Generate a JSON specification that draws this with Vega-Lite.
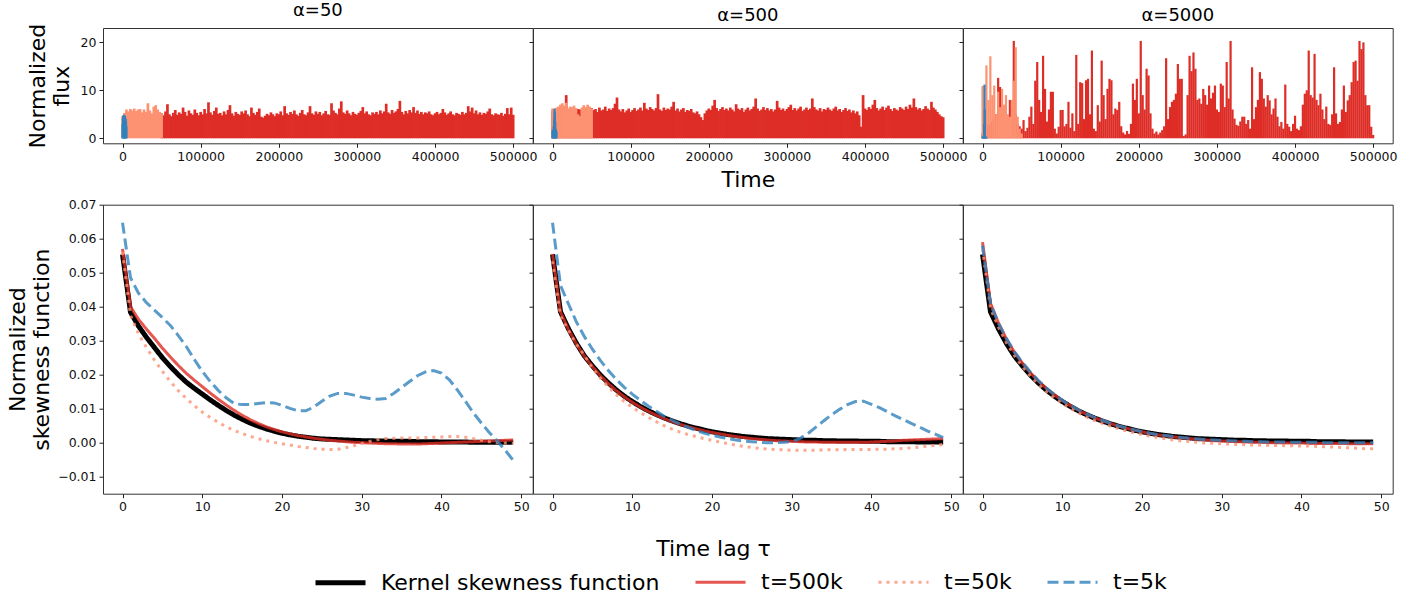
{
"$schema":"https://vega.github.io/schema/vega-lite/v6.json",
"padding":{"left":5,"top":1,"right":5,"bottom":0},
"config":{"font":"DejaVu Sans","view":{"stroke":"#333","strokeWidth":1},
"axis":{"grid":false,"domain":false,"tickSize":4,"tickColor":"#222","labelFontSize":12.5,"labelColor":"#111","labelPadding":3,"labelFlush":false,"labelOverlap":false,"titleFontSize":22,"titleFontWeight":"normal","titleColor":"#000","titleLineHeight":24},
"title":{"fontSize":18,"fontWeight":"normal","color":"#000","baseline":"alphabetic","offset":3,"frame":"group"}},
"datasets":{
"f50r":[{"t":50000,"v":5.2},{"t":52500,"v":4.8},{"t":55000,"v":5.6},{"t":57500,"v":7.1},{"t":60000,"v":5.0},{"t":62500,"v":4.6},{"t":65000,"v":5.3},{"t":67500,"v":5.9},{"t":70000,"v":4.9},{"t":72500,"v":5.4},
{"t":75000,"v":5.1},{"t":77500,"v":6.4},{"t":80000,"v":5.5},{"t":82500,"v":4.7},{"t":85000,"v":5.8},{"t":87500,"v":5.2},{"t":90000,"v":4.9},{"t":92500,"v":6.0},{"t":95000,"v":5.3},{"t":97500,"v":4.8},
{"t":100000,"v":5.5},{"t":102500,"v":5.0},{"t":105000,"v":6.1},{"t":107500,"v":5.2},{"t":110000,"v":7.5},{"t":112500,"v":5.4},{"t":115000,"v":4.9},{"t":117500,"v":5.7},{"t":120000,"v":6.4},{"t":122500,"v":5.1},
{"t":125000,"v":5.3},{"t":127500,"v":4.8},{"t":130000,"v":5.6},{"t":132500,"v":5.0},{"t":135000,"v":5.9},{"t":137500,"v":6.9},{"t":140000,"v":5.2},{"t":142500,"v":4.7},{"t":145000,"v":5.5},{"t":147500,"v":5.1},
{"t":150000,"v":4.9},{"t":152500,"v":5.6},{"t":155000,"v":5.2},{"t":157500,"v":5.8},{"t":160000,"v":5.0},{"t":162500,"v":4.6},{"t":165000,"v":6.4},{"t":167500,"v":5.3},{"t":170000,"v":4.9},{"t":172500,"v":5.5},
{"t":175000,"v":6.2},{"t":177500,"v":4.5},{"t":180000,"v":4.3},{"t":182500,"v":4.7},{"t":185000,"v":5.1},{"t":187500,"v":4.8},{"t":190000,"v":5.4},{"t":192500,"v":5.0},{"t":195000,"v":4.6},{"t":197500,"v":5.2},
{"t":200000,"v":5.0},{"t":202500,"v":5.6},{"t":205000,"v":4.8},{"t":207500,"v":6.7},{"t":210000,"v":5.2},{"t":212500,"v":4.9},{"t":215000,"v":5.5},{"t":217500,"v":5.1},{"t":220000,"v":5.8},{"t":222500,"v":5.0},
{"t":225000,"v":4.7},{"t":227500,"v":5.3},{"t":230000,"v":5.9},{"t":232500,"v":5.0},{"t":235000,"v":4.8},{"t":237500,"v":5.4},{"t":240000,"v":6.7},{"t":242500,"v":5.2},{"t":245000,"v":4.9},{"t":247500,"v":5.6},
{"t":250000,"v":5.1},{"t":252500,"v":5.5},{"t":255000,"v":4.8},{"t":257500,"v":5.2},{"t":260000,"v":5.7},{"t":262500,"v":5.0},{"t":265000,"v":4.9},{"t":267500,"v":7.3},{"t":270000,"v":5.8},{"t":272500,"v":5.3},
{"t":275000,"v":5.0},{"t":277500,"v":6.2},{"t":280000,"v":7.7},{"t":282500,"v":5.4},{"t":285000,"v":5.1},{"t":287500,"v":5.8},{"t":290000,"v":5.2},{"t":292500,"v":4.8},{"t":295000,"v":5.5},{"t":297500,"v":5.1},
{"t":300000,"v":4.9},{"t":302500,"v":5.3},{"t":305000,"v":5.7},{"t":307500,"v":6.5},{"t":310000,"v":5.2},{"t":312500,"v":5.6},{"t":315000,"v":5.0},{"t":317500,"v":4.8},{"t":320000,"v":5.4},{"t":322500,"v":5.1},
{"t":325000,"v":5.5},{"t":327500,"v":5.0},{"t":330000,"v":5.8},{"t":332500,"v":5.2},{"t":335000,"v":5.6},{"t":337500,"v":7.2},{"t":340000,"v":5.4},{"t":342500,"v":5.1},{"t":345000,"v":5.9},{"t":347500,"v":5.3},
{"t":350000,"v":5.6},{"t":352500,"v":6.1},{"t":355000,"v":7.8},{"t":357500,"v":5.5},{"t":360000,"v":5.0},{"t":362500,"v":5.7},{"t":365000,"v":5.2},{"t":367500,"v":5.9},{"t":370000,"v":5.4},{"t":372500,"v":6.5},
{"t":375000,"v":5.3},{"t":377500,"v":5.8},{"t":380000,"v":5.1},{"t":382500,"v":5.5},{"t":385000,"v":5.0},{"t":387500,"v":5.4},{"t":390000,"v":5.2},{"t":392500,"v":5.6},{"t":395000,"v":5.0},{"t":397500,"v":4.8},
{"t":400000,"v":5.2},{"t":402500,"v":5.5},{"t":405000,"v":5.0},{"t":407500,"v":5.3},{"t":410000,"v":6.1},{"t":412500,"v":5.4},{"t":415000,"v":4.9},{"t":417500,"v":5.2},{"t":420000,"v":5.6},{"t":422500,"v":5.0},
{"t":425000,"v":4.8},{"t":427500,"v":5.3},{"t":430000,"v":5.1},{"t":432500,"v":4.9},{"t":435000,"v":5.5},{"t":437500,"v":5.0},{"t":440000,"v":5.3},{"t":442500,"v":6.7},{"t":445000,"v":5.6},{"t":447500,"v":6.4},
{"t":450000,"v":5.2},{"t":452500,"v":5.8},{"t":455000,"v":5.0},{"t":457500,"v":5.4},{"t":460000,"v":4.9},{"t":462500,"v":5.3},{"t":465000,"v":5.1},{"t":467500,"v":5.6},{"t":470000,"v":6.2},{"t":472500,"v":5.0},
{"t":475000,"v":4.8},{"t":477500,"v":5.2},{"t":480000,"v":5.0},{"t":482500,"v":4.9},{"t":485000,"v":5.3},{"t":487500,"v":4.7},{"t":490000,"v":5.1},{"t":492500,"v":6.3},{"t":495000,"v":5.0},{"t":497500,"v":6.4},{"t":500000,"v":4.9}],
"f50s":[{"t":0,"v":4.6},{"t":2500,"v":5.3},{"t":5000,"v":6.0},{"t":7500,"v":5.6},{"t":10000,"v":6.1},{"t":12500,"v":5.8},{"t":15000,"v":6.2},{"t":17500,"v":5.7},{"t":20000,"v":6.0},{"t":22500,"v":6.1},{"t":25000,"v":5.4},{"t":27500,"v":6.0},{"t":30000,"v":5.5},{"t":32500,"v":7.3},{"t":35000,"v":5.8},{"t":37500,"v":5.2},{"t":40000,"v":6.6},{"t":42500,"v":6.9},{"t":45000,"v":6.0},{"t":47500,"v":5.5},{"t":50000,"v":5.2}],
"f50b":[{"t":0,"v":3.0},{"t":500,"v":4.2},{"t":1000,"v":4.8},{"t":1500,"v":4.6},{"t":2000,"v":4.9},{"t":2500,"v":4.5},{"t":3000,"v":4.7},{"t":3500,"v":4.3},{"t":4000,"v":4.0},{"t":4500,"v":3.6},{"t":5000,"v":2.5}],
"f500r":[{"t":0,"v":5.6},{"t":2500,"v":5.8},{"t":5000,"v":6.0},{"t":7500,"v":5.9},{"t":10000,"v":6.1},{"t":12500,"v":6.0},{"t":15000,"v":6.2},{"t":17500,"v":9.0},{"t":20000,"v":6.0},{"t":22500,"v":5.9},{"t":25000,"v":6.1},{"t":27500,"v":6.0},{"t":30000,"v":5.8},{"t":32500,"v":6.1},{"t":35000,"v":6.0},{"t":37500,"v":5.9},{"t":40000,"v":6.2},{"t":42500,"v":6.0},{"t":45000,"v":5.8},{"t":47500,"v":6.1},
{"t":50000,"v":6.3},{"t":52500,"v":5.9},{"t":55000,"v":6.1},{"t":57500,"v":5.5},{"t":60000,"v":6.4},{"t":62500,"v":5.8},{"t":65000,"v":6.0},{"t":67500,"v":6.6},{"t":70000,"v":5.7},{"t":72500,"v":6.2},
{"t":75000,"v":5.9},{"t":77500,"v":6.3},{"t":80000,"v":7.2},{"t":82500,"v":8.5},{"t":85000,"v":6.0},{"t":87500,"v":5.6},{"t":90000,"v":6.1},{"t":92500,"v":5.4},{"t":95000,"v":5.8},{"t":97500,"v":6.2},
{"t":100000,"v":5.5},{"t":102500,"v":5.9},{"t":105000,"v":6.3},{"t":107500,"v":5.7},{"t":110000,"v":6.0},{"t":112500,"v":6.4},{"t":115000,"v":5.8},{"t":117500,"v":7.4},{"t":120000,"v":6.2},{"t":122500,"v":5.9},
{"t":125000,"v":6.5},{"t":127500,"v":6.1},{"t":130000,"v":5.8},{"t":132500,"v":6.3},{"t":135000,"v":9.2},{"t":137500,"v":6.0},{"t":140000,"v":5.7},{"t":142500,"v":6.4},{"t":145000,"v":5.9},{"t":147500,"v":6.2},
{"t":150000,"v":6.0},{"t":152500,"v":6.6},{"t":155000,"v":7.6},{"t":157500,"v":5.8},{"t":160000,"v":6.2},{"t":162500,"v":5.6},{"t":165000,"v":6.0},{"t":167500,"v":6.3},{"t":170000,"v":5.5},{"t":172500,"v":5.9},
{"t":175000,"v":5.7},{"t":177500,"v":6.1},{"t":180000,"v":5.4},{"t":182500,"v":5.2},{"t":185000,"v":5.6},{"t":187500,"v":5.0},{"t":190000,"v":4.4},{"t":192500,"v":3.8},{"t":195000,"v":5.2},{"t":197500,"v":5.8},
{"t":200000,"v":6.2},{"t":202500,"v":5.9},{"t":205000,"v":6.8},{"t":207500,"v":8.0},{"t":210000,"v":6.3},{"t":212500,"v":5.7},{"t":215000,"v":6.1},{"t":217500,"v":6.5},{"t":220000,"v":5.9},{"t":222500,"v":6.2},
{"t":225000,"v":5.8},{"t":227500,"v":6.4},{"t":230000,"v":6.0},{"t":232500,"v":5.6},{"t":235000,"v":7.1},{"t":237500,"v":6.2},{"t":240000,"v":5.9},{"t":242500,"v":6.3},{"t":245000,"v":5.5},{"t":247500,"v":6.0},
{"t":250000,"v":6.4},{"t":252500,"v":5.8},{"t":255000,"v":6.1},{"t":257500,"v":6.6},{"t":260000,"v":8.3},{"t":262500,"v":6.2},{"t":265000,"v":5.7},{"t":267500,"v":6.0},{"t":270000,"v":6.5},{"t":272500,"v":5.9},
{"t":275000,"v":6.3},{"t":277500,"v":5.8},{"t":280000,"v":6.1},{"t":282500,"v":5.6},{"t":285000,"v":6.0},{"t":287500,"v":7.8},{"t":290000,"v":6.4},{"t":292500,"v":5.9},{"t":295000,"v":6.2},{"t":297500,"v":5.7},
{"t":300000,"v":6.1},{"t":302500,"v":6.5},{"t":305000,"v":7.0},{"t":307500,"v":5.9},{"t":310000,"v":6.3},{"t":312500,"v":5.8},{"t":315000,"v":6.2},{"t":317500,"v":6.6},{"t":320000,"v":5.7},{"t":322500,"v":6.0},
{"t":325000,"v":6.4},{"t":327500,"v":5.9},{"t":330000,"v":6.2},{"t":332500,"v":8.3},{"t":335000,"v":6.5},{"t":337500,"v":6.0},{"t":340000,"v":5.8},{"t":342500,"v":6.3},{"t":345000,"v":5.6},{"t":347500,"v":6.1},
{"t":350000,"v":5.9},{"t":352500,"v":6.4},{"t":355000,"v":6.0},{"t":357500,"v":5.7},{"t":360000,"v":6.2},{"t":362500,"v":6.6},{"t":365000,"v":5.8},{"t":367500,"v":6.1},{"t":370000,"v":5.5},{"t":372500,"v":5.9},
{"t":375000,"v":6.3},{"t":377500,"v":5.7},{"t":380000,"v":6.0},{"t":382500,"v":5.4},{"t":385000,"v":5.8},{"t":387500,"v":5.2},{"t":390000,"v":5.6},{"t":392500,"v":4.8},{"t":395000,"v":2.4},{"t":397500,"v":9.0},
{"t":400000,"v":6.2},{"t":402500,"v":5.9},{"t":405000,"v":6.5},{"t":407500,"v":6.1},{"t":410000,"v":7.0},{"t":412500,"v":8.0},{"t":415000,"v":6.3},{"t":417500,"v":5.8},{"t":420000,"v":6.2},{"t":422500,"v":6.6},
{"t":425000,"v":5.9},{"t":427500,"v":6.4},{"t":430000,"v":6.8},{"t":432500,"v":6.1},{"t":435000,"v":5.7},{"t":437500,"v":6.3},{"t":440000,"v":6.0},{"t":442500,"v":5.8},{"t":445000,"v":6.5},{"t":447500,"v":6.2},
{"t":450000,"v":5.9},{"t":452500,"v":6.6},{"t":455000,"v":6.1},{"t":457500,"v":7.0},{"t":460000,"v":6.4},{"t":462500,"v":8.3},{"t":465000,"v":6.5},{"t":467500,"v":6.0},{"t":470000,"v":6.3},{"t":472500,"v":5.8},
{"t":475000,"v":6.1},{"t":477500,"v":6.7},{"t":480000,"v":6.2},{"t":482500,"v":5.9},{"t":485000,"v":7.6},{"t":487500,"v":6.4},{"t":490000,"v":6.0},{"t":492500,"v":5.5},{"t":495000,"v":5.0},{"t":497500,"v":4.6},{"t":500000,"v":4.4}],
"f500s":[{"t":0,"v":6.2},{"t":2500,"v":6.0},{"t":5000,"v":6.4},{"t":7500,"v":6.6},{"t":10000,"v":7.0},{"t":12500,"v":7.3},{"t":15000,"v":6.8},{"t":17500,"v":7.4},{"t":20000,"v":6.2},{"t":22500,"v":6.6},{"t":25000,"v":6.5},{"t":27500,"v":6.8},{"t":30000,"v":6.3},{"t":32500,"v":5.0},{"t":35000,"v":4.6},{"t":37500,"v":6.4},{"t":40000,"v":6.9},{"t":42500,"v":6.5},{"t":45000,"v":7.0},{"t":47500,"v":6.6},{"t":50000,"v":6.2}],
"f500b":[{"t":0,"v":1.6},{"t":500,"v":1.8},{"t":1000,"v":1.7},{"t":1500,"v":2.5},{"t":2000,"v":4.0},{"t":2500,"v":6.2},{"t":3000,"v":5.5},{"t":3500,"v":3.5},{"t":4000,"v":2.0},{"t":4500,"v":1.6},{"t":5000,"v":1.4}],
"f5000r":[{"t":0,"v":1.0},{"t":2500,"v":2.0},{"t":5000,"v":1.5},{"t":7500,"v":3.0},{"t":10000,"v":2.5},{"t":12500,"v":3.5},{"t":15000,"v":4.0},{"t":17500,"v":5.0},{"t":20000,"v":12.6},{"t":22500,"v":10.7},{"t":25000,"v":4.0},{"t":27500,"v":6.0},{"t":30000,"v":5.0},{"t":32500,"v":3.0},{"t":35000,"v":8.0},{"t":37500,"v":6.5},{"t":40000,"v":20.3},{"t":42500,"v":5.0},{"t":45000,"v":3.0},{"t":47500,"v":2.5},
{"t":50000,"v":2.0},{"t":52500,"v":3.8},{"t":55000,"v":1.5},{"t":57500,"v":2.2},{"t":60000,"v":4.5},{"t":62500,"v":6.6},{"t":65000,"v":3.0},{"t":67500,"v":12.0},{"t":70000,"v":15.9},{"t":72500,"v":8.0},
{"t":75000,"v":5.5},{"t":77500,"v":17.2},{"t":80000,"v":10.3},{"t":82500,"v":3.5},{"t":85000,"v":6.0},{"t":87500,"v":9.7},{"t":90000,"v":9.7},{"t":92500,"v":2.0},{"t":95000,"v":1.0},{"t":97500,"v":2.4},
{"t":100000,"v":5.9},{"t":102500,"v":5.9},{"t":105000,"v":2.5},{"t":107500,"v":3.0},{"t":110000,"v":7.6},{"t":112500,"v":2.2},{"t":115000,"v":5.2},{"t":117500,"v":1.5},{"t":120000,"v":17.4},{"t":122500,"v":3.0},
{"t":125000,"v":11.7},{"t":127500,"v":11.5},{"t":130000,"v":4.0},{"t":132500,"v":12.1},{"t":135000,"v":12.4},{"t":137500,"v":5.0},{"t":140000,"v":18.3},{"t":142500,"v":2.0},{"t":145000,"v":1.5},{"t":147500,"v":6.9},
{"t":150000,"v":3.5},{"t":152500,"v":16.2},{"t":155000,"v":9.0},{"t":157500,"v":4.0},{"t":160000,"v":10.3},{"t":162500,"v":12.4},{"t":165000,"v":12.1},{"t":167500,"v":5.0},{"t":170000,"v":6.2},{"t":172500,"v":5.9},
{"t":175000,"v":7.6},{"t":177500,"v":2.5},{"t":180000,"v":1.2},{"t":182500,"v":0.8},{"t":185000,"v":1.5},{"t":187500,"v":0.9},{"t":190000,"v":3.0},{"t":192500,"v":11.4},{"t":195000,"v":8.0},{"t":197500,"v":12.4},
{"t":200000,"v":5.2},{"t":202500,"v":20.3},{"t":205000,"v":9.0},{"t":207500,"v":6.0},{"t":210000,"v":14.5},{"t":212500,"v":13.1},{"t":215000,"v":5.2},{"t":217500,"v":2.0},{"t":220000,"v":1.0},{"t":222500,"v":1.4},
{"t":225000,"v":0.8},{"t":227500,"v":1.2},{"t":230000,"v":1.7},{"t":232500,"v":2.5},{"t":235000,"v":16.7},{"t":237500,"v":4.0},{"t":240000,"v":6.5},{"t":242500,"v":7.6},{"t":245000,"v":8.0},{"t":247500,"v":9.3},
{"t":250000,"v":15.5},{"t":252500,"v":12.4},{"t":255000,"v":12.4},{"t":257500,"v":0.5},{"t":260000,"v":0.8},{"t":262500,"v":9.0},{"t":265000,"v":17.2},{"t":267500,"v":14.0},{"t":270000,"v":17.9},{"t":272500,"v":14.5},
{"t":275000,"v":8.0},{"t":277500,"v":8.3},{"t":280000,"v":7.2},{"t":282500,"v":10.3},{"t":285000,"v":9.0},{"t":287500,"v":7.0},{"t":290000,"v":11.0},{"t":292500,"v":8.3},{"t":295000,"v":9.5},{"t":297500,"v":11.0},
{"t":300000,"v":6.0},{"t":302500,"v":5.5},{"t":305000,"v":11.4},{"t":307500,"v":11.0},{"t":310000,"v":6.5},{"t":312500,"v":15.9},{"t":315000,"v":8.3},{"t":317500,"v":20.3},{"t":320000,"v":6.0},{"t":322500,"v":4.1},
{"t":325000,"v":2.8},{"t":327500,"v":2.6},{"t":330000,"v":3.5},{"t":332500,"v":4.5},{"t":335000,"v":4.5},{"t":337500,"v":3.0},{"t":340000,"v":3.8},{"t":342500,"v":2.0},{"t":345000,"v":14.8},{"t":347500,"v":4.0},
{"t":350000,"v":6.5},{"t":352500,"v":8.0},{"t":355000,"v":13.8},{"t":357500,"v":12.4},{"t":360000,"v":8.3},{"t":362500,"v":6.6},{"t":365000,"v":9.0},{"t":367500,"v":7.9},{"t":370000,"v":5.0},{"t":372500,"v":6.2},
{"t":375000,"v":8.3},{"t":377500,"v":4.5},{"t":380000,"v":2.5},{"t":382500,"v":3.4},{"t":385000,"v":2.0},{"t":387500,"v":11.2},{"t":390000,"v":3.0},{"t":392500,"v":2.4},{"t":395000,"v":1.5},{"t":397500,"v":3.0},
{"t":400000,"v":4.7},{"t":402500,"v":2.0},{"t":405000,"v":1.7},{"t":407500,"v":2.5},{"t":410000,"v":7.0},{"t":412500,"v":9.3},{"t":415000,"v":10.0},{"t":417500,"v":18.3},{"t":420000,"v":9.0},{"t":422500,"v":8.5},
{"t":425000,"v":17.6},{"t":427500,"v":8.0},{"t":430000,"v":6.9},{"t":432500,"v":9.3},{"t":435000,"v":6.0},{"t":437500,"v":4.0},{"t":440000,"v":6.6},{"t":442500,"v":3.0},{"t":445000,"v":2.8},{"t":447500,"v":5.0},
{"t":450000,"v":14.8},{"t":452500,"v":5.2},{"t":455000,"v":3.0},{"t":457500,"v":3.4},{"t":460000,"v":6.0},{"t":462500,"v":11.0},{"t":465000,"v":5.5},{"t":467500,"v":7.9},{"t":470000,"v":9.0},{"t":472500,"v":11.7},
{"t":475000,"v":15.9},{"t":477500,"v":16.2},{"t":480000,"v":12.0},{"t":482500,"v":20.3},{"t":485000,"v":18.6},{"t":487500,"v":20.0},{"t":490000,"v":9.0},{"t":492500,"v":6.9},{"t":495000,"v":6.9},{"t":497500,"v":2.4},{"t":500000,"v":0.7}],
"f5000s":[{"t":0,"v":10.9},{"t":2500,"v":6.0},{"t":5000,"v":15.2},{"t":7500,"v":8.0},{"t":10000,"v":17.1},{"t":12500,"v":9.0},{"t":15000,"v":11.0},{"t":17500,"v":5.0},{"t":20000,"v":9.7},{"t":22500,"v":6.5},{"t":25000,"v":10.3},{"t":27500,"v":7.0},{"t":30000,"v":9.0},{"t":32500,"v":5.0},{"t":35000,"v":4.5},{"t":37500,"v":8.0},{"t":40000,"v":12.0},{"t":42500,"v":19.0},{"t":45000,"v":4.5},{"t":47500,"v":2.0},{"t":50000,"v":1.0}],
"f5000b":[{"t":0,"v":0.3},{"t":500,"v":0.3},{"t":1000,"v":0.4},{"t":1500,"v":0.5},{"t":2000,"v":3.0},{"t":2500,"v":11.2},{"t":3000,"v":6.0},{"t":3500,"v":0.5},{"t":4000,"v":0.3},{"t":4500,"v":0.3},{"t":5000,"v":0.2}],
"k50":[{"x":0,"y":0.0554},{"x":1,"y":0.0384},{"x":2,"y":0.0343},{"x":3,"y":0.031},{"x":4,"y":0.028},{"x":5,"y":0.025},{"x":6,"y":0.0224},{"x":7,"y":0.02},{"x":8,"y":0.0178},{"x":9,"y":0.016},{"x":10,"y":0.0143},{"x":11,"y":0.0126},{"x":12,"y":0.011},{"x":13,"y":0.0095},{"x":14,"y":0.0081},{"x":15,"y":0.0069},{"x":16,"y":0.0058},{"x":17,"y":0.0049},{"x":18,"y":0.0041},{"x":19,"y":0.0034},{"x":20,"y":0.0028},{"x":21,"y":0.0023},{"x":22,"y":0.0019},{"x":23,"y":0.0016},{"x":24,"y":0.0013},{"x":25,"y":0.0011},{"x":26,"y":0.001},{"x":27,"y":0.0009},{"x":28,"y":0.0008},{"x":29,"y":0.0007},{"x":30,"y":0.0006},{"x":31,"y":0.0006},{"x":32,"y":0.0005},{"x":33,"y":0.0005},{"x":34,"y":0.0004},{"x":35,"y":0.0004},{"x":36,"y":0.0004},{"x":37,"y":0.0003},{"x":38,"y":0.0003},{"x":39,"y":0.0003},{"x":40,"y":0.0002},{"x":41,"y":0.0002},{"x":42,"y":0.0002},{"x":43,"y":0.0002},{"x":44,"y":0.0001},{"x":45,"y":0.0001},{"x":46,"y":0.0001},{"x":47,"y":0.0001},{"x":48,"y":0.0001},{"x":49,"y":0.0001}],
"r50":[{"x":0,"y":0.057},{"x":1,"y":0.04},{"x":2,"y":0.0363},{"x":3,"y":0.0334},{"x":4,"y":0.0307},{"x":5,"y":0.0278},{"x":6,"y":0.0252},{"x":7,"y":0.0227},{"x":8,"y":0.0204},{"x":9,"y":0.0184},{"x":10,"y":0.0165},{"x":11,"y":0.0146},{"x":12,"y":0.0128},{"x":13,"y":0.0111},{"x":14,"y":0.0095},{"x":15,"y":0.0081},{"x":16,"y":0.0068},{"x":17,"y":0.0057},{"x":18,"y":0.0047},{"x":19,"y":0.0039},{"x":20,"y":0.0032},{"x":21,"y":0.0026},{"x":22,"y":0.0021},{"x":23,"y":0.0017},{"x":24,"y":0.0013},{"x":25,"y":0.001},{"x":26,"y":0.0007},{"x":27,"y":0.0005},{"x":28,"y":0.0003},{"x":29,"y":0.0001},{"x":30,"y":0},{"x":31,"y":-0.0001},{"x":32,"y":-0.0002},{"x":33,"y":-0.0003},{"x":34,"y":-0.0003},{"x":35,"y":-0.0004},{"x":36,"y":-0.0004},{"x":37,"y":-0.0004},{"x":38,"y":-0.0003},{"x":39,"y":-0.0002},{"x":40,"y":-0.0001},{"x":41,"y":0},{"x":42,"y":0.0001},{"x":43,"y":0.0002},{"x":44,"y":0.0003},{"x":45,"y":0.0004},{"x":46,"y":0.0005},{"x":47,"y":0.0006},{"x":48,"y":0.0007},{"x":49,"y":0.0008}],
"s50":[{"x":0,"y":0.056},{"x":1,"y":0.0375},{"x":2,"y":0.032},{"x":3,"y":0.028},{"x":4,"y":0.0243},{"x":5,"y":0.021},{"x":6,"y":0.018},{"x":7,"y":0.0153},{"x":8,"y":0.013},{"x":9,"y":0.0109},{"x":10,"y":0.009},{"x":11,"y":0.0074},{"x":12,"y":0.006},{"x":13,"y":0.0047},{"x":14,"y":0.0036},{"x":15,"y":0.0027},{"x":16,"y":0.0019},{"x":17,"y":0.0012},{"x":18,"y":0.0006},{"x":19,"y":0.0001},{"x":20,"y":-0.0003},{"x":21,"y":-0.0007},{"x":22,"y":-0.0011},{"x":23,"y":-0.0014},{"x":24,"y":-0.0017},{"x":25,"y":-0.0019},{"x":26,"y":-0.002},{"x":27,"y":-0.0019},{"x":28,"y":-0.0015},{"x":29,"y":-0.0009},{"x":30,"y":-0.0002},{"x":31,"y":0.0004},{"x":32,"y":0.0009},{"x":33,"y":0.0012},{"x":34,"y":0.0013},{"x":35,"y":0.0014},{"x":36,"y":0.0014},{"x":37,"y":0.0014},{"x":38,"y":0.0015},{"x":39,"y":0.0016},{"x":40,"y":0.0017},{"x":41,"y":0.0018},{"x":42,"y":0.0018},{"x":43,"y":0.0016},{"x":44,"y":0.0012},{"x":45,"y":0.0007},{"x":46,"y":0.0003},{"x":47,"y":0},{"x":48,"y":-0.0001},{"x":49,"y":-0.0002}],
"b50":[{"x":0,"y":0.0647},{"x":1,"y":0.0485},{"x":2,"y":0.044},{"x":3,"y":0.0412},{"x":4,"y":0.039},{"x":5,"y":0.0368},{"x":6,"y":0.0345},{"x":7,"y":0.0315},{"x":8,"y":0.0283},{"x":9,"y":0.0245},{"x":10,"y":0.021},{"x":11,"y":0.018},{"x":12,"y":0.0154},{"x":13,"y":0.0132},{"x":14,"y":0.0115},{"x":15,"y":0.0112},{"x":16,"y":0.0112},{"x":17,"y":0.0115},{"x":18,"y":0.0118},{"x":19,"y":0.0117},{"x":20,"y":0.011},{"x":21,"y":0.0101},{"x":22,"y":0.0094},{"x":23,"y":0.0094},{"x":24,"y":0.0105},{"x":25,"y":0.0122},{"x":26,"y":0.0137},{"x":27,"y":0.0145},{"x":28,"y":0.0145},{"x":29,"y":0.014},{"x":30,"y":0.0134},{"x":31,"y":0.013},{"x":32,"y":0.0128},{"x":33,"y":0.013},{"x":34,"y":0.0145},{"x":35,"y":0.0162},{"x":36,"y":0.018},{"x":37,"y":0.0197},{"x":38,"y":0.0208},{"x":39,"y":0.0212},{"x":40,"y":0.0205},{"x":41,"y":0.0185},{"x":42,"y":0.0155},{"x":43,"y":0.0122},{"x":44,"y":0.0088},{"x":45,"y":0.0058},{"x":46,"y":0.003},{"x":47,"y":0.0005},{"x":48,"y":-0.0022},{"x":49,"y":-0.0052}],
"k":[{"x":0,"y":0.0554},{"x":1,"y":0.0385},{"x":2,"y":0.0335},{"x":3,"y":0.0292},{"x":4,"y":0.0255},{"x":5,"y":0.0226},{"x":6,"y":0.0199},{"x":7,"y":0.0176},{"x":8,"y":0.0155},{"x":9,"y":0.0137},{"x":10,"y":0.0121},{"x":11,"y":0.0107},{"x":12,"y":0.0094},{"x":13,"y":0.0083},{"x":14,"y":0.0073},{"x":15,"y":0.0064},{"x":16,"y":0.0056},{"x":17,"y":0.0049},{"x":18,"y":0.0043},{"x":19,"y":0.0037},{"x":20,"y":0.0032},{"x":21,"y":0.0028},{"x":22,"y":0.0024},{"x":23,"y":0.0021},{"x":24,"y":0.0018},{"x":25,"y":0.0016},{"x":26,"y":0.0014},{"x":27,"y":0.0012},{"x":28,"y":0.0011},{"x":29,"y":0.001},{"x":30,"y":0.0009},{"x":31,"y":0.0008},{"x":32,"y":0.0007},{"x":33,"y":0.0007},{"x":34,"y":0.0006},{"x":35,"y":0.0006},{"x":36,"y":0.0005},{"x":37,"y":0.0005},{"x":38,"y":0.0005},{"x":39,"y":0.0004},{"x":40,"y":0.0004},{"x":41,"y":0.0004},{"x":42,"y":0.0003},{"x":43,"y":0.0003},{"x":44,"y":0.0003},{"x":45,"y":0.0003},{"x":46,"y":0.0002},{"x":47,"y":0.0002},{"x":48,"y":0.0002},{"x":49,"y":0.0002}],
"r500":[{"x":0,"y":0.0555},{"x":1,"y":0.0384},{"x":2,"y":0.0333},{"x":3,"y":0.029},{"x":4,"y":0.0254},{"x":5,"y":0.0224},{"x":6,"y":0.0197},{"x":7,"y":0.0174},{"x":8,"y":0.0153},{"x":9,"y":0.0135},{"x":10,"y":0.0119},{"x":11,"y":0.0105},{"x":12,"y":0.0092},{"x":13,"y":0.0081},{"x":14,"y":0.0071},{"x":15,"y":0.0062},{"x":16,"y":0.0054},{"x":17,"y":0.0047},{"x":18,"y":0.0041},{"x":19,"y":0.0035},{"x":20,"y":0.003},{"x":21,"y":0.0026},{"x":22,"y":0.0022},{"x":23,"y":0.0018},{"x":24,"y":0.0015},{"x":25,"y":0.0012},{"x":26,"y":0.001},{"x":27,"y":0.0008},{"x":28,"y":0.0006},{"x":29,"y":0.0005},{"x":30,"y":0.0004},{"x":31,"y":0.0003},{"x":32,"y":0.0002},{"x":33,"y":0.0002},{"x":34,"y":0.0001},{"x":35,"y":0.0001},{"x":36,"y":0.0001},{"x":37,"y":0.0001},{"x":38,"y":0.0001},{"x":39,"y":0.0001},{"x":40,"y":0.0002},{"x":41,"y":0.0003},{"x":42,"y":0.0004},{"x":43,"y":0.0005},{"x":44,"y":0.0007},{"x":45,"y":0.0008},{"x":46,"y":0.0009},{"x":47,"y":0.001},{"x":48,"y":0.0011},{"x":49,"y":0.0012}],
"s500":[{"x":0,"y":0.0534},{"x":1,"y":0.0373},{"x":2,"y":0.033},{"x":3,"y":0.029},{"x":4,"y":0.0257},{"x":5,"y":0.022},{"x":6,"y":0.019},{"x":7,"y":0.0164},{"x":8,"y":0.0141},{"x":9,"y":0.0121},{"x":10,"y":0.0104},{"x":11,"y":0.0089},{"x":12,"y":0.0075},{"x":13,"y":0.0062},{"x":14,"y":0.005},{"x":15,"y":0.004},{"x":16,"y":0.0031},{"x":17,"y":0.0024},{"x":18,"y":0.0018},{"x":19,"y":0.0012},{"x":20,"y":0.0007},{"x":21,"y":0.0002},{"x":22,"y":-0.0003},{"x":23,"y":-0.0007},{"x":24,"y":-0.0011},{"x":25,"y":-0.0014},{"x":26,"y":-0.0017},{"x":27,"y":-0.0019},{"x":28,"y":-0.002},{"x":29,"y":-0.0021},{"x":30,"y":-0.0022},{"x":31,"y":-0.0022},{"x":32,"y":-0.0022},{"x":33,"y":-0.0022},{"x":34,"y":-0.0021},{"x":35,"y":-0.0021},{"x":36,"y":-0.0021},{"x":37,"y":-0.002},{"x":38,"y":-0.002},{"x":39,"y":-0.002},{"x":40,"y":-0.002},{"x":41,"y":-0.0019},{"x":42,"y":-0.0019},{"x":43,"y":-0.0018},{"x":44,"y":-0.0017},{"x":45,"y":-0.0015},{"x":46,"y":-0.0013},{"x":47,"y":-0.001},{"x":48,"y":-0.0008},{"x":49,"y":-0.0005}],
"b500":[{"x":0,"y":0.0647},{"x":1,"y":0.0462},{"x":2,"y":0.0408},{"x":3,"y":0.0355},{"x":4,"y":0.0312},{"x":5,"y":0.0275},{"x":6,"y":0.0242},{"x":7,"y":0.0212},{"x":8,"y":0.0186},{"x":9,"y":0.0163},{"x":10,"y":0.0143},{"x":11,"y":0.0125},{"x":12,"y":0.0108},{"x":13,"y":0.0093},{"x":14,"y":0.0078},{"x":15,"y":0.0066},{"x":16,"y":0.0055},{"x":17,"y":0.0045},{"x":18,"y":0.0036},{"x":19,"y":0.0028},{"x":20,"y":0.0022},{"x":21,"y":0.0017},{"x":22,"y":0.0012},{"x":23,"y":0.0008},{"x":24,"y":0.0005},{"x":25,"y":0.0003},{"x":26,"y":0.0001},{"x":27,"y":0},{"x":28,"y":0},{"x":29,"y":0.0001},{"x":30,"y":0.0004},{"x":31,"y":0.0012},{"x":32,"y":0.0026},{"x":33,"y":0.0045},{"x":34,"y":0.0064},{"x":35,"y":0.0082},{"x":36,"y":0.0098},{"x":37,"y":0.0112},{"x":38,"y":0.0121},{"x":39,"y":0.0122},{"x":40,"y":0.0113},{"x":41,"y":0.0103},{"x":42,"y":0.0091},{"x":43,"y":0.0079},{"x":44,"y":0.0068},{"x":45,"y":0.0057},{"x":46,"y":0.0046},{"x":47,"y":0.0035},{"x":48,"y":0.0025},{"x":49,"y":0.0015}],
"r5000":[{"x":0,"y":0.059},{"x":1,"y":0.041},{"x":2,"y":0.0352},{"x":3,"y":0.0305},{"x":4,"y":0.0266},{"x":5,"y":0.0234},{"x":6,"y":0.0206},{"x":7,"y":0.0181},{"x":8,"y":0.016},{"x":9,"y":0.0141},{"x":10,"y":0.0124},{"x":11,"y":0.0109},{"x":12,"y":0.0096},{"x":13,"y":0.0084},{"x":14,"y":0.0074},{"x":15,"y":0.0065},{"x":16,"y":0.0057},{"x":17,"y":0.0049},{"x":18,"y":0.0043},{"x":19,"y":0.0037},{"x":20,"y":0.0032},{"x":21,"y":0.0027},{"x":22,"y":0.0023},{"x":23,"y":0.002},{"x":24,"y":0.0017},{"x":25,"y":0.0014},{"x":26,"y":0.0012},{"x":27,"y":0.001},{"x":28,"y":0.0008},{"x":29,"y":0.0006},{"x":30,"y":0.0005},{"x":31,"y":0.0004},{"x":32,"y":0.0003},{"x":33,"y":0.0002},{"x":34,"y":0.0001},{"x":35,"y":0.0001},{"x":36,"y":0},{"x":37,"y":0},{"x":38,"y":-0.0001},{"x":39,"y":-0.0001},{"x":40,"y":-0.0001},{"x":41,"y":-0.0002},{"x":42,"y":-0.0002},{"x":43,"y":-0.0002},{"x":44,"y":-0.0002},{"x":45,"y":-0.0002},{"x":46,"y":-0.0003},{"x":47,"y":-0.0003},{"x":48,"y":-0.0003},{"x":49,"y":-0.0003}],
"s5000":[{"x":0,"y":0.057},{"x":1,"y":0.0395},{"x":2,"y":0.034},{"x":3,"y":0.0294},{"x":4,"y":0.0256},{"x":5,"y":0.0224},{"x":6,"y":0.0196},{"x":7,"y":0.0172},{"x":8,"y":0.0151},{"x":9,"y":0.0132},{"x":10,"y":0.0116},{"x":11,"y":0.0101},{"x":12,"y":0.0088},{"x":13,"y":0.0076},{"x":14,"y":0.0066},{"x":15,"y":0.0057},{"x":16,"y":0.0049},{"x":17,"y":0.0042},{"x":18,"y":0.0035},{"x":19,"y":0.0029},{"x":20,"y":0.0024},{"x":21,"y":0.0019},{"x":22,"y":0.0015},{"x":23,"y":0.0011},{"x":24,"y":0.0008},{"x":25,"y":0.0005},{"x":26,"y":0.0003},{"x":27,"y":0.0001},{"x":28,"y":-0.0001},{"x":29,"y":-0.0002},{"x":30,"y":-0.0003},{"x":31,"y":-0.0004},{"x":32,"y":-0.0005},{"x":33,"y":-0.0006},{"x":34,"y":-0.0007},{"x":35,"y":-0.0007},{"x":36,"y":-0.0008},{"x":37,"y":-0.0008},{"x":38,"y":-0.0009},{"x":39,"y":-0.0009},{"x":40,"y":-0.001},{"x":41,"y":-0.001},{"x":42,"y":-0.0011},{"x":43,"y":-0.0012},{"x":44,"y":-0.0013},{"x":45,"y":-0.0014},{"x":46,"y":-0.0015},{"x":47,"y":-0.0016},{"x":48,"y":-0.0018},{"x":49,"y":-0.0018}],
"b5000":[{"x":0,"y":0.058},{"x":1,"y":0.0408},{"x":2,"y":0.0352},{"x":3,"y":0.0306},{"x":4,"y":0.0268},{"x":5,"y":0.0236},{"x":6,"y":0.0208},{"x":7,"y":0.0183},{"x":8,"y":0.0161},{"x":9,"y":0.0142},{"x":10,"y":0.0125},{"x":11,"y":0.011},{"x":12,"y":0.0097},{"x":13,"y":0.0085},{"x":14,"y":0.0075},{"x":15,"y":0.0066},{"x":16,"y":0.0058},{"x":17,"y":0.005},{"x":18,"y":0.0044},{"x":19,"y":0.0038},{"x":20,"y":0.0033},{"x":21,"y":0.0028},{"x":22,"y":0.0024},{"x":23,"y":0.0021},{"x":24,"y":0.0018},{"x":25,"y":0.0015},{"x":26,"y":0.0013},{"x":27,"y":0.0011},{"x":28,"y":0.0009},{"x":29,"y":0.0008},{"x":30,"y":0.0007},{"x":31,"y":0.0006},{"x":32,"y":0.0005},{"x":33,"y":0.0004},{"x":34,"y":0.0003},{"x":35,"y":0.0003},{"x":36,"y":0.0002},{"x":37,"y":0.0002},{"x":38,"y":0.0002},{"x":39,"y":0.0001},{"x":40,"y":0.0001},{"x":41,"y":0.0001},{"x":42,"y":0.0001},{"x":43,"y":0},{"x":44,"y":0},{"x":45,"y":0},{"x":46,"y":0},{"x":47,"y":0},{"x":48,"y":0},{"x":49,"y":0}]
},
"columns":3,
"spacing":{"row":60.7,"column":0},
"bounds":"flush",
"concat":[
{"width":429.7,"height":115.3,"title":"α=50",
 "encoding":{"x":{"field":"t","type":"quantitative","scale":{"domain":[-25000,525000],"nice":false,"zero":false},"axis":{"values":[0,100000,200000,300000,400000,500000],"format":"d","title":null}},
 "y":{"field":"v","type":"quantitative","scale":{"domain":[-1.05,23],"nice":false,"zero":false},"axis":{"values":[0,10,20],"title":["Normalized","flux"],"titleX":-66,"titleY":57.65,"titleAngle":270,"titleAlign":"center","titleBaseline":"middle"}},
 "y2":{"datum":0}},
 "layer":[
 {"data":{"name":"f50r"},"mark":{"type":"rule","strokeWidth":2.7},"encoding":{"color":{"datum":"t=500k","scale":{"domain":["Kernel skewness function","t=500k","t=50k","t=5k"],"range":["#000000","#de2d26","#fc9272","#3182bd"]}}}},
 {"data":{"name":"f50s"},"mark":{"type":"rule","strokeWidth":2.7},"encoding":{"color":{"datum":"t=50k","scale":{"domain":["Kernel skewness function","t=500k","t=50k","t=5k"],"range":["#000000","#de2d26","#fc9272","#3182bd"]}}}},
 {"data":{"name":"f50b"},"mark":{"type":"rule","strokeWidth":2.2},"encoding":{"color":{"datum":"t=5k","scale":{"domain":["Kernel skewness function","t=500k","t=50k","t=5k"],"range":["#000000","#de2d26","#fc9272","#3182bd"]}}}}]},
{"width":429.7,"height":115.3,"title":"α=500",
 "encoding":{"x":{"field":"t","type":"quantitative","scale":{"domain":[-25000,525000],"nice":false,"zero":false},"axis":{"values":[0,100000,200000,300000,400000,500000],"format":"d","title":"Time","titleY":43,"titleBaseline":"alphabetic"}},
 "y":{"field":"v","type":"quantitative","scale":{"domain":[-1.05,23],"nice":false,"zero":false},"axis":{"values":[0,10,20],"labels":false,"title":null}},
 "y2":{"datum":0}},
 "layer":[
 {"data":{"name":"f500r"},"mark":{"type":"rule","strokeWidth":2.7},"encoding":{"color":{"datum":"t=500k","scale":{"domain":["Kernel skewness function","t=500k","t=50k","t=5k"],"range":["#000000","#de2d26","#fc9272","#3182bd"]}}}},
 {"data":{"name":"f500s"},"mark":{"type":"rule","strokeWidth":2.7},"encoding":{"color":{"datum":"t=50k","scale":{"domain":["Kernel skewness function","t=500k","t=50k","t=5k"],"range":["#000000","#de2d26","#fc9272","#3182bd"]}}}},
 {"data":{"name":"f500b"},"mark":{"type":"rule","strokeWidth":2.2},"encoding":{"color":{"datum":"t=5k","scale":{"domain":["Kernel skewness function","t=500k","t=50k","t=5k"],"range":["#000000","#de2d26","#fc9272","#3182bd"]}}}}]},
{"width":429.7,"height":115.3,"title":"α=5000",
 "encoding":{"x":{"field":"t","type":"quantitative","scale":{"domain":[-25000,525000],"nice":false,"zero":false},"axis":{"values":[0,100000,200000,300000,400000,500000],"format":"d","title":null}},
 "y":{"field":"v","type":"quantitative","scale":{"domain":[-1.05,23],"nice":false,"zero":false},"axis":{"values":[0,10,20],"labels":false,"title":null}},
 "y2":{"datum":0}},
 "layer":[
 {"data":{"name":"f5000r"},"mark":{"type":"rule","strokeWidth":2.2},"encoding":{"color":{"datum":"t=500k","scale":{"domain":["Kernel skewness function","t=500k","t=50k","t=5k"],"range":["#000000","#de2d26","#fc9272","#3182bd"]}}}},
 {"data":{"name":"f5000s"},"mark":{"type":"rule","strokeWidth":2.2},"encoding":{"color":{"datum":"t=50k","scale":{"domain":["Kernel skewness function","t=500k","t=50k","t=5k"],"range":["#000000","#de2d26","#fc9272","#3182bd"]}}}},
 {"data":{"name":"f5000b"},"mark":{"type":"rule","strokeWidth":2.2},"encoding":{"color":{"datum":"t=5k","scale":{"domain":["Kernel skewness function","t=500k","t=50k","t=5k"],"range":["#000000","#de2d26","#fc9272","#3182bd"]}}}}]},
{"width":429.7,"height":289,
 "encoding":{"x":{"field":"x","type":"quantitative","scale":{"domain":[-2.45,51.45],"nice":false,"zero":false},"axis":{"values":[0,10,20,30,40,50],"title":null}},
 "y":{"field":"y","type":"quantitative","scale":{"domain":[-0.015,0.07],"nice":false,"zero":false},"axis":{"values":[-0.01,0,0.01,0.02,0.03,0.04,0.05,0.06,0.07],"format":".2f","title":["Normalized","skewness function"],"titleX":-86,"titleY":144.5,"titleAngle":270,"titleAlign":"center","titleBaseline":"middle"}}},
 "layer":[
 {"data":{"name":"k50"},"mark":"line","encoding":{"color":{"datum":"Kernel skewness function","scale":{"domain":["Kernel skewness function","t=500k","t=50k","t=5k"],"range":["#000000","#de2d26","#fc9272","#3182bd"]},"legend":{"orient":"none","legendX":210,"legendY":527,"direction":"horizontal","columns":4,"symbolType":"stroke","symbolSize":2500,"labelFontSize":22,"labelFont":"DejaVu Sans","labelColor":"#000","labelOffset":13,"columnPadding":29,"labelLimit":600,"title":null}},"strokeDash":{"datum":"Kernel skewness function","scale":{"domain":["Kernel skewness function","t=500k","t=50k","t=5k"],"range":[[1,0],[1,0],[3,5],[11,5]]}},"strokeWidth":{"datum":"Kernel skewness function","scale":{"type":"ordinal","domain":["Kernel skewness function","t=500k","t=50k","t=5k"],"range":[5,3,3,3]}},"opacity":{"datum":"Kernel skewness function","scale":{"type":"ordinal","domain":["Kernel skewness function","t=500k","t=50k","t=5k"],"range":[1,0.8,0.8,0.8]}}}},
 {"data":{"name":"r50"},"mark":"line","encoding":{"color":{"datum":"t=500k","scale":{"domain":["Kernel skewness function","t=500k","t=50k","t=5k"],"range":["#000000","#de2d26","#fc9272","#3182bd"]}},"strokeDash":{"datum":"t=500k","scale":{"domain":["Kernel skewness function","t=500k","t=50k","t=5k"],"range":[[1,0],[1,0],[3,5],[11,5]]}},"strokeWidth":{"datum":"t=500k","scale":{"type":"ordinal","domain":["Kernel skewness function","t=500k","t=50k","t=5k"],"range":[5,3,3,3]}},"opacity":{"datum":"t=500k","scale":{"type":"ordinal","domain":["Kernel skewness function","t=500k","t=50k","t=5k"],"range":[1,0.8,0.8,0.8]}}}},
 {"data":{"name":"s50"},"mark":"line","encoding":{"color":{"datum":"t=50k","scale":{"domain":["Kernel skewness function","t=500k","t=50k","t=5k"],"range":["#000000","#de2d26","#fc9272","#3182bd"]}},"strokeDash":{"datum":"t=50k","scale":{"domain":["Kernel skewness function","t=500k","t=50k","t=5k"],"range":[[1,0],[1,0],[3,5],[11,5]]}},"strokeWidth":{"datum":"t=50k","scale":{"type":"ordinal","domain":["Kernel skewness function","t=500k","t=50k","t=5k"],"range":[5,3,3,3]}},"opacity":{"datum":"t=50k","scale":{"type":"ordinal","domain":["Kernel skewness function","t=500k","t=50k","t=5k"],"range":[1,0.8,0.8,0.8]}}}},
 {"data":{"name":"b50"},"mark":"line","encoding":{"color":{"datum":"t=5k","scale":{"domain":["Kernel skewness function","t=500k","t=50k","t=5k"],"range":["#000000","#de2d26","#fc9272","#3182bd"]}},"strokeDash":{"datum":"t=5k","scale":{"domain":["Kernel skewness function","t=500k","t=50k","t=5k"],"range":[[1,0],[1,0],[3,5],[11,5]]}},"strokeWidth":{"datum":"t=5k","scale":{"type":"ordinal","domain":["Kernel skewness function","t=500k","t=50k","t=5k"],"range":[5,3,3,3]}},"opacity":{"datum":"t=5k","scale":{"type":"ordinal","domain":["Kernel skewness function","t=500k","t=50k","t=5k"],"range":[1,0.8,0.8,0.8]}}}}]},
{"width":429.7,"height":289,
 "encoding":{"x":{"field":"x","type":"quantitative","scale":{"domain":[-2.45,51.45],"nice":false,"zero":false},"axis":{"values":[0,10,20,30,40,50],"title":"Time lag τ","titleX":180,"titleY":62,"titleBaseline":"alphabetic"}},
 "y":{"field":"y","type":"quantitative","scale":{"domain":[-0.015,0.07],"nice":false,"zero":false},"axis":{"values":[-0.01,0,0.01,0.02,0.03,0.04,0.05,0.06,0.07],"labels":false,"title":null}}},
 "layer":[
 {"data":{"name":"k"},"mark":"line","encoding":{"color":{"datum":"Kernel skewness function","scale":{"domain":["Kernel skewness function","t=500k","t=50k","t=5k"],"range":["#000000","#de2d26","#fc9272","#3182bd"]}},"strokeDash":{"datum":"Kernel skewness function","scale":{"domain":["Kernel skewness function","t=500k","t=50k","t=5k"],"range":[[1,0],[1,0],[3,5],[11,5]]}},"strokeWidth":{"datum":"Kernel skewness function","scale":{"type":"ordinal","domain":["Kernel skewness function","t=500k","t=50k","t=5k"],"range":[5,3,3,3]}},"opacity":{"datum":"Kernel skewness function","scale":{"type":"ordinal","domain":["Kernel skewness function","t=500k","t=50k","t=5k"],"range":[1,0.8,0.8,0.8]}}}},
 {"data":{"name":"r500"},"mark":"line","encoding":{"color":{"datum":"t=500k","scale":{"domain":["Kernel skewness function","t=500k","t=50k","t=5k"],"range":["#000000","#de2d26","#fc9272","#3182bd"]}},"strokeDash":{"datum":"t=500k","scale":{"domain":["Kernel skewness function","t=500k","t=50k","t=5k"],"range":[[1,0],[1,0],[3,5],[11,5]]}},"strokeWidth":{"datum":"t=500k","scale":{"type":"ordinal","domain":["Kernel skewness function","t=500k","t=50k","t=5k"],"range":[5,3,3,3]}},"opacity":{"datum":"t=500k","scale":{"type":"ordinal","domain":["Kernel skewness function","t=500k","t=50k","t=5k"],"range":[1,0.8,0.8,0.8]}}}},
 {"data":{"name":"s500"},"mark":"line","encoding":{"color":{"datum":"t=50k","scale":{"domain":["Kernel skewness function","t=500k","t=50k","t=5k"],"range":["#000000","#de2d26","#fc9272","#3182bd"]}},"strokeDash":{"datum":"t=50k","scale":{"domain":["Kernel skewness function","t=500k","t=50k","t=5k"],"range":[[1,0],[1,0],[3,5],[11,5]]}},"strokeWidth":{"datum":"t=50k","scale":{"type":"ordinal","domain":["Kernel skewness function","t=500k","t=50k","t=5k"],"range":[5,3,3,3]}},"opacity":{"datum":"t=50k","scale":{"type":"ordinal","domain":["Kernel skewness function","t=500k","t=50k","t=5k"],"range":[1,0.8,0.8,0.8]}}}},
 {"data":{"name":"b500"},"mark":"line","encoding":{"color":{"datum":"t=5k","scale":{"domain":["Kernel skewness function","t=500k","t=50k","t=5k"],"range":["#000000","#de2d26","#fc9272","#3182bd"]}},"strokeDash":{"datum":"t=5k","scale":{"domain":["Kernel skewness function","t=500k","t=50k","t=5k"],"range":[[1,0],[1,0],[3,5],[11,5]]}},"strokeWidth":{"datum":"t=5k","scale":{"type":"ordinal","domain":["Kernel skewness function","t=500k","t=50k","t=5k"],"range":[5,3,3,3]}},"opacity":{"datum":"t=5k","scale":{"type":"ordinal","domain":["Kernel skewness function","t=500k","t=50k","t=5k"],"range":[1,0.8,0.8,0.8]}}}}]},
{"width":429.7,"height":289,
 "encoding":{"x":{"field":"x","type":"quantitative","scale":{"domain":[-2.45,51.45],"nice":false,"zero":false},"axis":{"values":[0,10,20,30,40,50],"title":null}},
 "y":{"field":"y","type":"quantitative","scale":{"domain":[-0.015,0.07],"nice":false,"zero":false},"axis":{"values":[-0.01,0,0.01,0.02,0.03,0.04,0.05,0.06,0.07],"labels":false,"title":null}}},
 "layer":[
 {"data":{"name":"k"},"mark":"line","encoding":{"color":{"datum":"Kernel skewness function","scale":{"domain":["Kernel skewness function","t=500k","t=50k","t=5k"],"range":["#000000","#de2d26","#fc9272","#3182bd"]}},"strokeDash":{"datum":"Kernel skewness function","scale":{"domain":["Kernel skewness function","t=500k","t=50k","t=5k"],"range":[[1,0],[1,0],[3,5],[11,5]]}},"strokeWidth":{"datum":"Kernel skewness function","scale":{"type":"ordinal","domain":["Kernel skewness function","t=500k","t=50k","t=5k"],"range":[5,3,3,3]}},"opacity":{"datum":"Kernel skewness function","scale":{"type":"ordinal","domain":["Kernel skewness function","t=500k","t=50k","t=5k"],"range":[1,0.8,0.8,0.8]}}}},
 {"data":{"name":"r5000"},"mark":"line","encoding":{"color":{"datum":"t=500k","scale":{"domain":["Kernel skewness function","t=500k","t=50k","t=5k"],"range":["#000000","#de2d26","#fc9272","#3182bd"]}},"strokeDash":{"datum":"t=500k","scale":{"domain":["Kernel skewness function","t=500k","t=50k","t=5k"],"range":[[1,0],[1,0],[3,5],[11,5]]}},"strokeWidth":{"datum":"t=500k","scale":{"type":"ordinal","domain":["Kernel skewness function","t=500k","t=50k","t=5k"],"range":[5,3,3,3]}},"opacity":{"datum":"t=500k","scale":{"type":"ordinal","domain":["Kernel skewness function","t=500k","t=50k","t=5k"],"range":[1,0.8,0.8,0.8]}}}},
 {"data":{"name":"s5000"},"mark":"line","encoding":{"color":{"datum":"t=50k","scale":{"domain":["Kernel skewness function","t=500k","t=50k","t=5k"],"range":["#000000","#de2d26","#fc9272","#3182bd"]}},"strokeDash":{"datum":"t=50k","scale":{"domain":["Kernel skewness function","t=500k","t=50k","t=5k"],"range":[[1,0],[1,0],[3,5],[11,5]]}},"strokeWidth":{"datum":"t=50k","scale":{"type":"ordinal","domain":["Kernel skewness function","t=500k","t=50k","t=5k"],"range":[5,3,3,3]}},"opacity":{"datum":"t=50k","scale":{"type":"ordinal","domain":["Kernel skewness function","t=500k","t=50k","t=5k"],"range":[1,0.8,0.8,0.8]}}}},
 {"data":{"name":"b5000"},"mark":"line","encoding":{"color":{"datum":"t=5k","scale":{"domain":["Kernel skewness function","t=500k","t=50k","t=5k"],"range":["#000000","#de2d26","#fc9272","#3182bd"]}},"strokeDash":{"datum":"t=5k","scale":{"domain":["Kernel skewness function","t=500k","t=50k","t=5k"],"range":[[1,0],[1,0],[3,5],[11,5]]}},"strokeWidth":{"datum":"t=5k","scale":{"type":"ordinal","domain":["Kernel skewness function","t=500k","t=50k","t=5k"],"range":[5,3,3,3]}},"opacity":{"datum":"t=5k","scale":{"type":"ordinal","domain":["Kernel skewness function","t=500k","t=50k","t=5k"],"range":[1,0.8,0.8,0.8]}}}}]}
]
}
